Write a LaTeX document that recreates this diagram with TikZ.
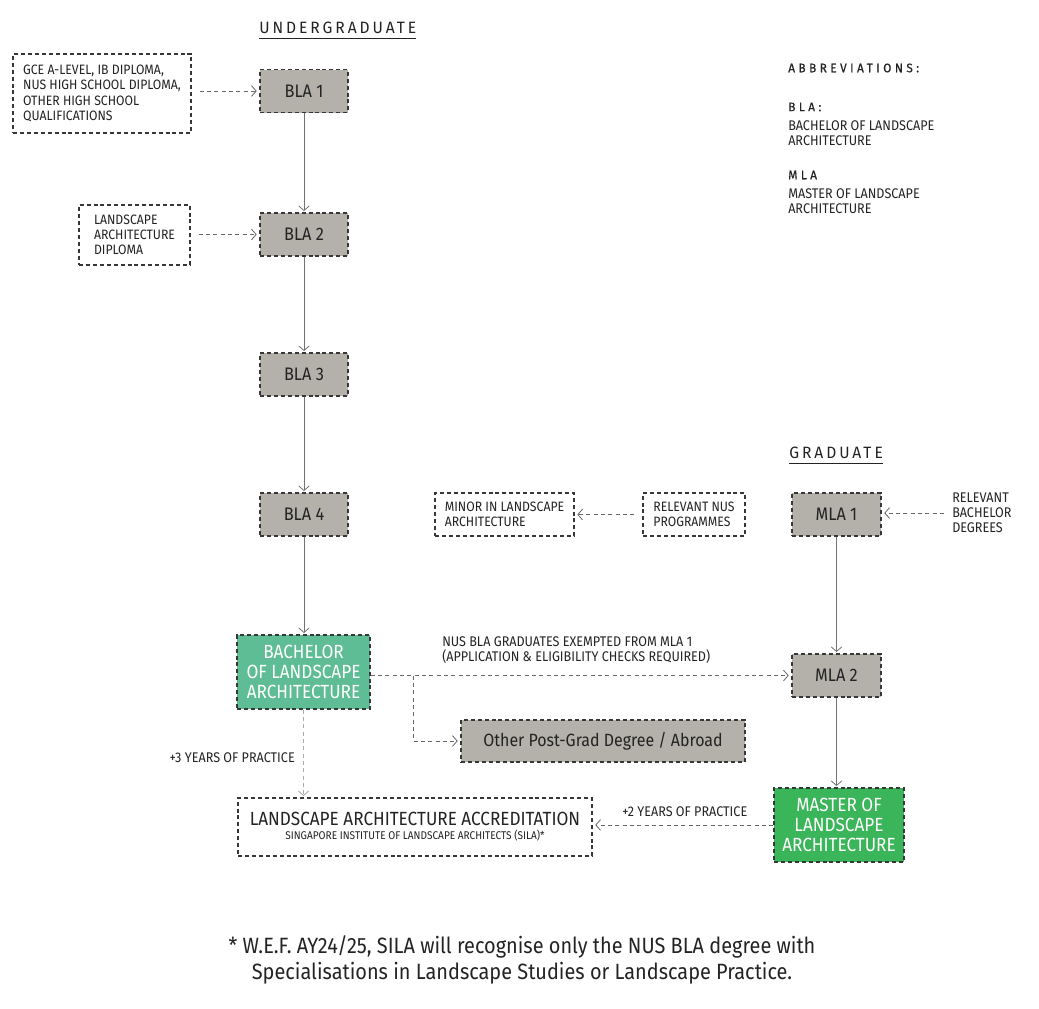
\documentclass[tikz,border=0pt]{standalone}
\usepackage{fontspec}
\setmainfont{Fira Sans}[FakeStretch=0.9]
\newfontfamily\spacedfont{Fira Sans}[FakeStretch=0.95,LetterSpace=18]
\newfontfamily\abbrfont{Fira Sans}[FakeStretch=0.95,LetterSpace=28,FakeBold=0.6]
\usetikzlibrary{arrows.meta,positioning}
\definecolor{boxgray}{RGB}{180,177,171}
\definecolor{bachgreen}{RGB}{94,189,148}
\definecolor{mastgreen}{RGB}{59,181,89}
\definecolor{bordc}{RGB}{55,55,55}
\definecolor{txtc}{RGB}{35,35,35}
\definecolor{linec}{RGB}{115,115,115}
\tikzset{
  dbox/.style={draw=bordc, line width=0.95pt, dash pattern=on 3pt off 2.2pt, inner sep=0pt, text=txtc},
  graybox/.style={dbox, fill=boxgray, minimum width=66pt, minimum height=32.25pt, font=\fontsize{13.6}{15}\selectfont},
  whitebox/.style={dbox, fill=white, font=\fontsize{10.2}{11.4}\selectfont, align=left},
  greenbox/.style={dbox, text=white, align=center, font=\fontsize{14.3}{15}\selectfont},
  small/.style={text=txtc, font=\fontsize{10.5}{11.4}\selectfont, inner sep=0pt},
  tip/.style={-{Straight Barb[length=3.5pt,width=8pt,line width=0.6pt]}},
  solidarrow/.style={tip, draw=linec, line width=0.7pt, shorten >=1pt},
  dasharrow/.style={tip, draw=linec!90!black, line width=0.7pt, dash pattern=on 3pt off 2.5pt, shorten >=2pt},
  lightdash/.style={tip, draw=linec!60, line width=0.9pt, dash pattern=on 3pt off 2.5pt, shorten >=1pt},
  heading/.style={text=txtc, font=\spacedfont\fontsize{12.3}{13}\selectfont, inner sep=0pt},
  abbrhead/.style={text=txtc, inner sep=0pt, font=\abbrfont\fontsize{9.3}{10}\selectfont},
}
\begin{document}
\begin{tikzpicture}[x=0.75pt,y=-0.75pt]
\useasboundingbox (0,0) rectangle (1039,1008);
% headings
\node[heading, anchor=west] (ug) at (259,28) {UNDERGRADUATE};
\draw[txtc, line width=0.6pt] (ug.south west) ++(0,-3pt) coordinate (ugl) -- (ugl -| ug.south east);
\node[heading, anchor=west] (gr) at (789,453) {GRADUATE};
\draw[txtc, line width=0.6pt] (gr.south west) ++(0,-3pt) coordinate (grl) -- (grl -| gr.south east);

% abbreviations
\node[abbrhead, anchor=west] (abbr) at (788,68) {ABBREVIATIONS:};
\node[abbrhead, anchor=west] (abla) at (788,107) {BLA:};
\node[small, anchor=north west, align=left] (ablat) at (788,120) {BACHELOR OF LANDSCAPE\\ARCHITECTURE};
\node[abbrhead, anchor=west] (amla) at (788,175) {MLA};
\node[small, anchor=north west, align=left] (amlat) at (788,188) {MASTER OF LANDSCAPE\\ARCHITECTURE};

% undergraduate column
\node[graybox] (bla1) at (304,91) {BLA 1};
\node[graybox] (bla2) at (304,234.5) {BLA 2};
\node[graybox] (bla3) at (304,374.5) {BLA 3};
\node[graybox] (bla4) at (304,514.5) {BLA 4};

\node[whitebox, minimum width=133.5pt, minimum height=59.25pt] (gce) at (102,93.5)
  {GCE A-LEVEL, IB DIPLOMA,\\NUS HIGH SCHOOL DIPLOMA,\\OTHER HIGH SCHOOL\\QUALIFICATIONS};
\node[whitebox, minimum width=83.25pt, minimum height=45pt] (dip) at (134.5,235)
  {LANDSCAPE\\ARCHITECTURE\\DIPLOMA};

\node[whitebox, minimum width=104.25pt, minimum height=32.25pt] (minor) at (504.5,514.5)
  {MINOR IN LANDSCAPE\\ARCHITECTURE};
\node[whitebox, minimum width=76.5pt, minimum height=32.25pt] (nusp) at (694,514.5)
  {RELEVANT NUS\\PROGRAMMES};

\node[graybox, minimum width=66.75pt] (mla1) at (836.5,514.5) {MLA 1};
\node[small, anchor=west, align=left] (relb) at (952,513) {RELEVANT\\BACHELOR\\DEGREES};

\node[greenbox, fill=bachgreen, minimum width=99.75pt, minimum height=55.5pt] (bach) at (303.5,672)
  {BACHELOR\\OF LANDSCAPE\\ARCHITECTURE};
\node[graybox, minimum width=66.75pt] (mla2) at (836.5,675.5) {MLA 2};
\node[graybox, minimum width=213pt, minimum height=31.5pt, font=\fontsize{13.3}{15}\selectfont] (other) at (603,741) {Other Post-Grad Degree / Abroad};

\node[dbox, fill=white, minimum width=265.5pt, minimum height=43.5pt, align=center] (acc) at (415,827)
  {{\fontsize{14.3}{14}\selectfont LANDSCAPE ARCHITECTURE ACCREDITATION}\\[-1.5pt]{\fontsize{8.4}{9}\selectfont SINGAPORE INSTITUTE OF LANDSCAPE ARCHITECTS (SILA)*}};
\node[greenbox, fill=mastgreen, minimum width=97.5pt, minimum height=55.5pt] (mast) at (839,825)
  {MASTER OF\\LANDSCAPE\\ARCHITECTURE};

% labels
\node[small, anchor=west, align=left] (exlab) at (442,650) {NUS BLA GRADUATES EXEMPTED FROM MLA 1\\(APPLICATION \& ELIGIBILITY CHECKS REQUIRED)};
\node[small, anchor=east] (p3) at (295,758) {+3 YEARS OF PRACTICE};
\node[small, anchor=west] (p2) at (622,812) {+2 YEARS OF PRACTICE};

% footnote
\node[text=txtc, align=center, font=\fontsize{16.6}{19.5}\selectfont, inner sep=0pt] (foot) at (522,960)
  {* W.E.F. AY24/25, SILA will recognise only the NUS BLA degree with\\Specialisations in Landscape Studies or Landscape Practice.};

% connectors
\draw[solidarrow] (bla1) -- (bla2);
\draw[solidarrow] (bla2) -- (bla3);
\draw[solidarrow] (bla3) -- (bla4);
\draw[solidarrow] (bla4) -- (bla4.south |- bach.north);
\draw[solidarrow] (mla1) -- (mla2);
\draw[solidarrow] (mla2.south) -- (mla2.south |- mast.north);

\draw[dasharrow, shorten <=6pt] (gce.east |- bla1) -- (bla1.west);
\draw[dasharrow, shorten <=6pt] (dip.east |- bla2) -- (bla2.west);
\draw[dasharrow, shorten <=6pt] (nusp.west) -- (minor.east);
\draw[dasharrow, shorten <=6pt] (relb.west) -- (mla1.east |- relb.west);
\draw[dasharrow] (bach.east |- mla2.west) -- (mla2.west);
\coordinate (br) at (413,675.5);
\draw[dasharrow] (br) |- (other.west);
\draw[lightdash] (bach.south) -- (bach.south |- acc.north);
\draw[dasharrow] (mast.west) -- (acc.east |- mast.west);
\end{tikzpicture}
\end{document}
